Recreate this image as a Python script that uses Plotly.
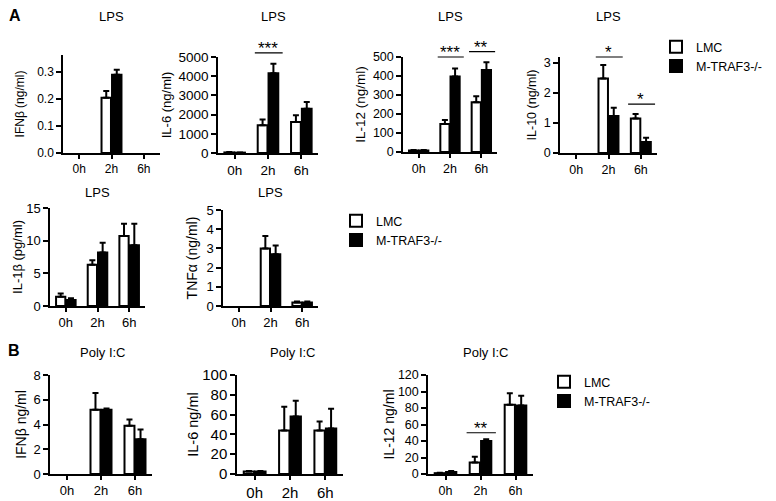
import plotly.graph_objects as go

W, H = 776, 501
OFF = 8  # page body margin of the html page
FW, FH = W - OFF, H - OFF
FONT = "Arial, Liberation Sans, sans-serif"

times = ["0h", "2h", "6h"]
groups = ["LMC", "M-TRAF3-/-"]

panel_titles = ["LPS", "LPS", "LPS", "LPS", "LPS", "LPS", "Poly I:C", "Poly I:C", "Poly I:C"]
y_labels = ["IFNβ (ng/ml)", "IL-6 (ng/ml)", "IL-12 (ng/ml)", "IL-10 (ng/ml)",
            "IL-1β (pg/ml)", "TNFα (ng/ml)", "IFNβ ng/ml", "IL-6 ng/ml", "IL-12 ng/ml"]

# means and upper error (SEM) per panel, order 0h / 2h / 6h
lmc_mean = [[0, 0.205, 0], [30, 1450, 1620], [8, 148, 262], [0, 2.48, 1.15],
            [1.4, 6.3, 10.7], [0, 3.0, 0.18], [0, 5.2, 3.9], [2.5, 44, 44], [1.0, 14, 84]]
lmc_err = [[0, 0.025, 0], [20, 300, 350], [3, 20, 32], [0, 0.45, 0.15],
           [0.5, 0.7, 1.9], [0, 0.65, 0.05], [0, 1.35, 0.5], [0.5, 24, 9], [0.5, 7, 14]]
ko_mean = [[0, 0.29, 0], [20, 4150, 2300], [8, 398, 432], [0, 1.23, 0.37],
           [0.9, 8.2, 9.3], [0, 2.7, 0.18], [0, 5.2, 2.8], [2.5, 58, 46], [2.5, 40, 83]]
ko_err = [[0, 0.018, 0], [10, 500, 350], [3, 42, 40], [0, 0.28, 0.14],
          [0.3, 1.5, 3.3], [0, 0.45, 0.05], [0, 0.1, 0.8], [0.5, 16, 20], [1.0, 2, 12]]

y_max = [0.363, 5000, 500, 3.2, 15, 5, 8, 100, 120]
y_ticks = [[0, 0.1, 0.2, 0.3], [0, 1000, 2000, 3000, 4000, 5000], [0, 100, 200, 300, 400, 500],
           [0, 1, 2, 3], [0, 5, 10, 15], [0, 1, 2, 3, 4, 5], [0, 2, 4, 6, 8],
           [0, 20, 40, 60, 80, 100], [0, 20, 40, 60, 80, 100, 120]]
tick_fmt = [".1f", "", "", "", "", "", "", "", ""]

# significance bars: panel, time index, height, label
sig_panel = [2, 3, 3, 4, 4, 9]
sig_time = [1, 1, 2, 1, 2, 1]
sig_level = [5210, 500, 528, 3.2, 1.63, 50]
sig_label = ["***", "***", "**", "*", "*", "**"]

# plot boxes in screen pixels (left, top, right, bottom)
boxes = [(63, 55, 160, 153), (218, 57, 318, 153), (403, 57, 497, 152), (560, 57, 657, 153),
         (50, 208, 145, 306), (223, 210, 318, 306),
         (50, 375, 152, 474), (237, 375, 343, 474), (428, 375, 533, 474)]
tick_size = [12, 13.5, 12.5, 12.5, 13, 13, 13, 15, 12.5]
title_size = [12, 13, 13.5, 12.5, 13, 14, 14, 14.5, 14]
title_gap = [10, 4, 4, 4, 1, 6, 4, 0, 0]
title_y = [17, 17, 17, 17, 192, 192, 352, 352, 352]
title_dx = [0, 5, 0, 0, 0, 0, 2, 3, 5]
legend_of = {4: "legend", 6: "legend2", 9: "legend3"}


def px_x(x):
    return (x - OFF) / FW


def px_y(y):
    return 1 - (y - OFF) / FH


fig = go.Figure()
layout = {}
for i in range(9):
    k = i + 1
    sfx = "" if k == 1 else str(k)
    leg = legend_of.get(k)
    for g, mean, err, fill in [(groups[0], lmc_mean[i], lmc_err[i], "white"),
                               (groups[1], ko_mean[i], ko_err[i], "black")]:
        fig.add_trace(go.Bar(
            x=times, y=[v if v else None for v in mean], name=g,
            error_y=dict(type="data", array=err, arrayminus=[0] * 3, symmetric=False,
                         color="black", thickness=2, width=3),
            marker=dict(color=fill, line=dict(color="black", width=2)),
            xaxis="x" + sfx, yaxis="y" + sfx,
            showlegend=leg is not None, legend=leg if leg else "legend",
        ))
    l, t, r, b = boxes[i]
    layout["xaxis" + sfx] = dict(
        domain=[px_x(l), px_x(r)], anchor="y" + sfx, type="category", categoryarray=times,
        range=[-0.5, 2.5], showline=True, linecolor="black", linewidth=1.5,
        ticks="outside", ticklen=4, tickwidth=1.5, tickcolor="black", automargin=False,
        showgrid=False, zeroline=False, tickfont=dict(size=tick_size[i], color="black"))
    layout["yaxis" + sfx] = dict(
        domain=[px_y(b), px_y(t)], anchor="x" + sfx, range=[0, y_max[i]],
        tickvals=y_ticks[i], tickformat=tick_fmt[i], showline=True, linecolor="black",
        linewidth=1.5, ticks="outside", ticklen=5, tickwidth=1.5, tickcolor="black",
        showgrid=False, zeroline=False, tickfont=dict(size=tick_size[i], color="black"),
        automargin=False,
        title=dict(text=y_labels[i], font=dict(size=title_size[i], color="black"),
                   standoff=title_gap[i]))

annotations = []
for i in range(9):
    sfx = "" if i == 0 else str(i + 1)
    annotations.append(dict(text=panel_titles[i], xref="x" + sfx + " domain", x=0.5,
                            xshift=title_dx[i], yref="paper", y=px_y(title_y[i]),
                            yanchor="middle", showarrow=False,
                            font=dict(size=13, color="black")))
for p, ti, lv, lb in zip(sig_panel, sig_time, sig_level, sig_label):
    sfx = "" if p == 1 else str(p)
    yd = lv / y_max[p - 1]
    annotations.append(dict(text=lb, x=ti, y=yd, xref="x" + sfx, yref="y" + sfx + " domain",
                            yanchor="bottom", yshift=-7, showarrow=False,
                            font=dict(size=17, color="black")))
    annotations.append(dict(text="", x=ti + 0.44, y=yd, ax=ti - 0.44, ay=0,
                            xref="x" + sfx, yref="y" + sfx + " domain", axref="x" + sfx,
                            ayref="pixel", showarrow=True, arrowhead=0, arrowwidth=1.2,
                            arrowcolor="black", standoff=0, startstandoff=0))
for letter, lx, ly in [("A", 15, 15), ("B", 14, 350)]:
    annotations.append(dict(text="<b>" + letter + "</b>", xref="paper", yref="paper",
                            x=px_x(lx), y=px_y(ly), xanchor="center", yanchor="middle",
                            showarrow=False, font=dict(size=16, color="black")))

leg_style = dict(font=dict(size=12.5, color="black"), bgcolor="rgba(0,0,0,0)",
                 xanchor="left", yanchor="top", itemclick=False, tracegroupgap=0)
fig.update_layout(
    **layout,
    legend=dict(x=px_x(656), y=px_y(32), **leg_style),
    legend2=dict(x=px_x(336), y=px_y(206), **leg_style),
    legend3=dict(x=px_x(544), y=px_y(367), **leg_style),
    annotations=annotations,
    barmode="group", bargap=0.35, bargroupgap=0.1,
    width=FW, height=FH, margin=dict(l=0, r=0, t=0, b=0, autoexpand=False),
    paper_bgcolor="white", plot_bgcolor="white",
    font=dict(family=FONT, color="black"),
)
fig.write_html("out.html")
